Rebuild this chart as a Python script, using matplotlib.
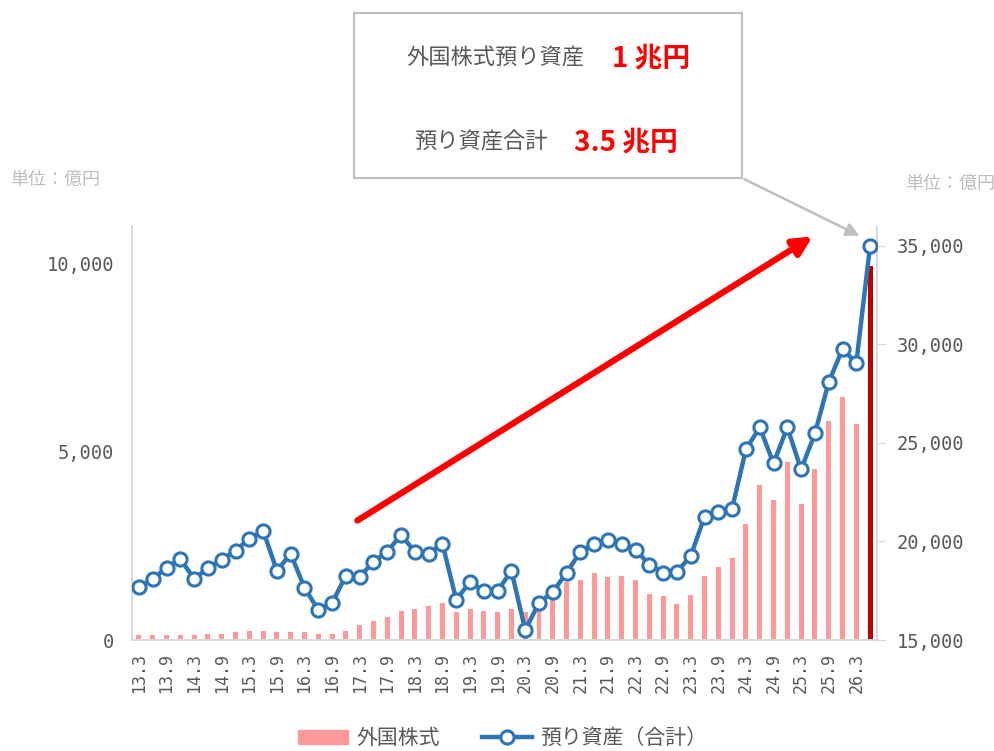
import matplotlib.pyplot as plt
import matplotlib.patches as mpatches
from matplotlib.lines import Line2D
from matplotlib.ticker import FuncFormatter
import numpy as np

plt.rcParams['font.family'] = ['Noto Sans CJK JP', 'DejaVu Sans']

#--- DATA ---
periods = []
for yy in range(13, 27):
    for mm in [3, 6, 9, 12]:
        periods.append(f"{yy}.{mm}")
periods = periods[:54]  # 13.3 ... 26.6

# foreign stocks (left axis, 億円)
foreign_stock = [130, 130, 130, 130, 130, 160, 160, 210, 240, 240,
                 210, 210, 210, 160, 160, 240, 400, 500, 610, 770,
                 820, 900, 980, 740, 820, 770, 740, 820, 740, 820,
                 1090, 1540, 1590, 1780, 1670, 1700, 1590, 1220, 1170, 950,
                 1190, 1700, 1940, 2180, 3080, 4110, 3710, 4720, 3610, 4540,
                 5810, 6450, 5730, 9950]

# total custody assets (right axis, 億円)
total_assets = [17700, 18100, 18660, 19120, 18100, 18660, 19070, 19530, 20140, 20550,
                18510, 19380, 17650, 16530, 16880, 18260, 18210, 18970, 19480, 20340,
                19480, 19380, 19890, 17040, 17950, 17490, 17490, 18510, 15510, 16880,
                17440, 18410, 19480, 19890, 20090, 19890, 19580, 18820, 18410, 18460,
                19270, 21260, 21510, 21670, 24670, 25790, 23960, 25790, 23650, 25480,
                28080, 29760, 29050, 35000]

left_ticks = [0, 5000, 10000]
right_ticks = [15000, 20000, 25000, 30000, 35000]

#--- COLORS ---
bar_color = '#FF9999'
last_bar_color = '#C00000'
line_color = '#2E75B6'
text_gray = '#595959'
light_gray = '#BFBFBF'
mono = ['DejaVu Sans Mono']

#--- FIGURE ---
fig = plt.figure(figsize=(9.95, 7.51), dpi=100)
ax = fig.add_axes([0.1327, 0.1478, 0.7487, 0.5512])
ax2 = ax.twinx()

x = np.arange(len(periods))
colors = [bar_color] * len(x)
colors[-1] = last_bar_color
ax.bar(x, foreign_stock, width=0.36, color=colors, zorder=2)

ax2.plot(x, total_assets, color=line_color, linewidth=3.2, marker='o',
         markersize=9.5, markerfacecolor='white', markeredgecolor=line_color,
         markeredgewidth=2.2, zorder=3)

ax.set_xlim(-0.5, len(x) - 0.5)
ax.set_ylim(0, 11000)
ax2.set_ylim(15000, 36000)

ax.set_yticks(left_ticks)
ax2.set_yticks(right_ticks)
fmt = FuncFormatter(lambda v, p: f"{int(v):,}")
ax.yaxis.set_major_formatter(fmt)
ax2.yaxis.set_major_formatter(fmt)

ax.set_xticks(x[::2])
ax.set_xticklabels(periods[::2], rotation=90, fontsize=12, color=text_gray, family=mono)

ax.tick_params(axis='y', length=0, labelsize=13.5, labelcolor=text_gray, pad=13)
ax2.tick_params(axis='y', length=6, color='#D9D9D9', labelsize=13.5, labelcolor=text_gray, pad=8)
ax.tick_params(axis='x', length=0, pad=9)
for lab in ax.get_yticklabels() + ax2.get_yticklabels():
    lab.set_family(mono)

for a in (ax, ax2):
    a.spines['top'].set_visible(False)
    for s in ['left', 'right', 'bottom']:
        a.spines[s].set_color('#D9D9D9')
        a.spines[s].set_linewidth(1.2)

ax.set_zorder(ax2.get_zorder() - 1)
ax2.patch.set_visible(False)

#--- UNIT LABELS ---
fig.text(0.010, 0.760, '単位：億円', fontsize=13, color=light_gray, va='center', ha='left')
fig.text(0.9095, 0.755, '単位：億円', fontsize=13, color=light_gray, va='center', ha='left')

#--- CALLOUT BOX ---
box = mpatches.Rectangle((0.3558, 0.763), 0.390, 0.2197, transform=fig.transFigure,
                         facecolor='white', edgecolor=light_gray, linewidth=1.5)
fig.patches.append(box)
fig.text(0.4975, 0.9228, '外国株式預り資産', fontsize=16, color=text_gray, ha='center', va='center')
fig.text(0.6548, 0.9228, '1 兆円', fontsize=20, color='red', fontweight='bold', ha='center', va='center')
fig.text(0.4834, 0.8109, '預り資産合計', fontsize=16, color=text_gray, ha='center', va='center')
fig.text(0.6286, 0.8109, '3.5 兆円', fontsize=20, color='red', fontweight='bold', ha='center', va='center')

fig.add_artist(mpatches.FancyArrowPatch((0.7457, 0.763), (0.8663, 0.6844),
                                        transform=fig.transFigure, arrowstyle='-|>',
                                        mutation_scale=20, color=light_gray, linewidth=1.8))

# red trend arrow
fig.add_artist(mpatches.FancyArrowPatch((0.3568, 0.3049), (0.8191, 0.6871),
                                        transform=fig.transFigure, arrowstyle='-|>',
                                        mutation_scale=28, color='red', linewidth=4.5))

#--- LEGEND ---
handles = [mpatches.Patch(color=bar_color, label='外国株式'),
           Line2D([0], [0], color=line_color, linewidth=3.2, marker='o', markersize=9.5,
                  markerfacecolor='white', markeredgecolor=line_color, markeredgewidth=2.2,
                  label='預り資産（合計）')]
leg = fig.legend(handles=handles, loc='center', bbox_to_anchor=(0.505, 0.017), ncol=2,
                 frameon=False, fontsize=15, handlelength=2.4, handleheight=0.6,
                 columnspacing=2.0, handletextpad=0.4)
for t in leg.get_texts():
    t.set_color(text_gray)

fig.savefig('out.png', dpi=100)
